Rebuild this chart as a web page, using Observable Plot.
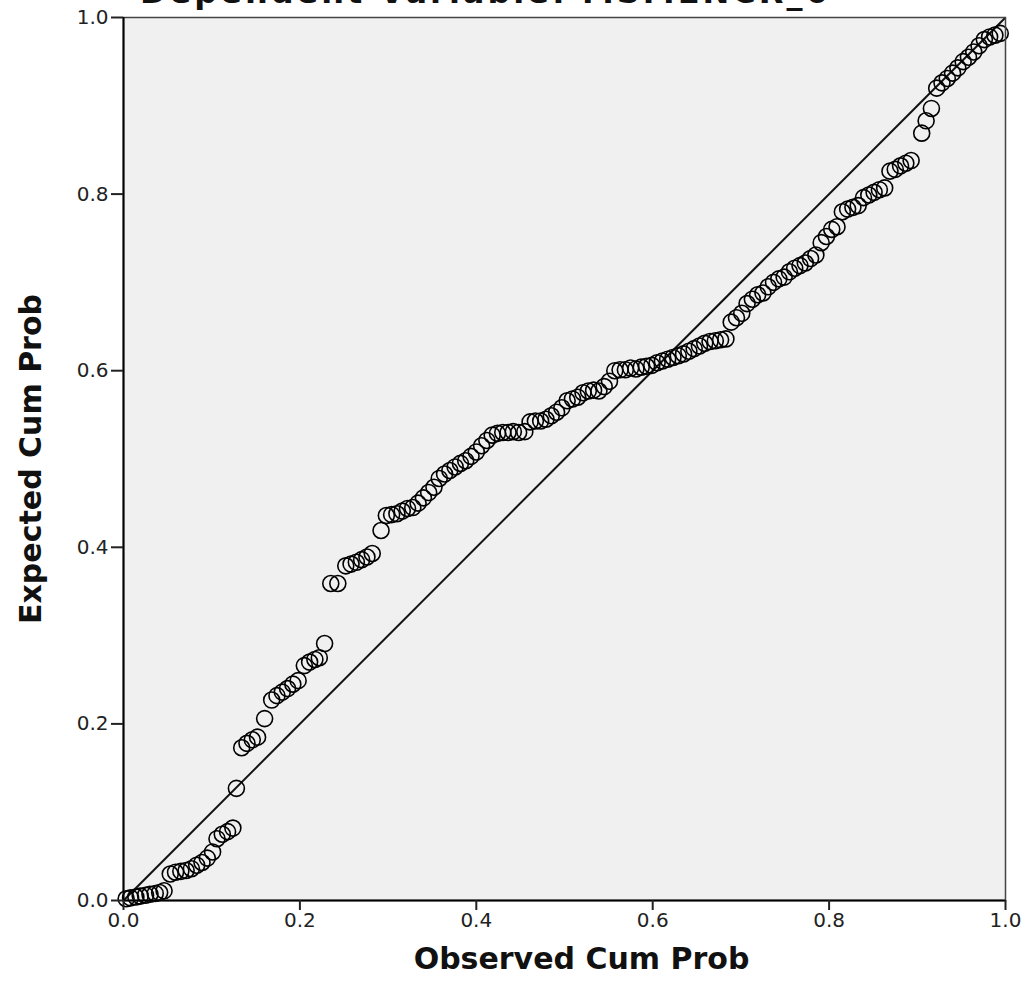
<!DOCTYPE html>
<html><head><meta charset="utf-8">
<script src="https://cdn.jsdelivr.net/npm/d3@7"></script>
<script src="https://cdn.jsdelivr.net/npm/@observablehq/plot@0.6"></script>
<style>
body{margin:0;background:#fff;}
#wrap{position:relative;width:1031px;height:999px;overflow:hidden;background:#fff;}
#title{position:absolute;left:140px;top:-27px;font:bold 32px "DejaVu Sans";letter-spacing:3px;color:#111;white-space:nowrap;z-index:2;}
#chart{position:absolute;left:0;top:0;}
</style></head><body>
<div id="wrap"><div id="title"></div><div id="chart"></div></div>
<script>
const titleText = "Dependent Variable: MSMENCR_6";
const xLabel = "Observed Cum Prob";
const yLabel = "Expected Cum Prob";
const ticks = [0, 0.2, 0.4, 0.6, 0.8, 1.0];
const diagonal = [0, 1];

const observed = [
0.003,0.008,0.014,0.019,0.025,0.030,0.036,0.041,0.046,
0.053,0.059,0.065,0.071,0.077,0.083,0.089,0.095,
0.101,0.106,0.112,0.118,0.124,0.128,
0.134,0.140,0.146,0.152,0.160,
0.168,0.174,0.180,0.186,0.192,0.198,
0.205,0.211,0.217,0.222,0.228,
0.235,0.243,
0.252,0.258,0.264,0.270,0.276,0.282,
0.292,0.298,0.304,0.310,0.316,0.322,0.328,
0.334,0.340,0.346,0.352,0.358,0.364,0.370,0.376,0.382,0.388,0.394,0.400,0.406,0.412,0.418,
0.424,0.430,0.436,0.442,0.448,0.455,
0.461,0.467,0.473,0.479,0.485,0.491,0.497,
0.503,0.509,0.515,0.521,0.527,0.533,0.539,0.545,0.551,
0.557,0.563,0.569,0.575,0.581,0.587,0.593,0.599,
0.605,0.611,0.617,0.623,0.629,0.635,0.641,0.647,0.653,0.659,0.665,0.671,0.677,0.683,
0.689,0.695,0.701,0.707,0.713,0.719,0.725,0.731,0.737,0.743,0.749,0.755,0.761,0.767,0.773,0.779,0.785,
0.791,0.797,0.803,0.809,0.815,0.821,0.827,0.833,0.839,0.845,0.851,0.857,0.863,
0.869,0.875,0.881,0.887,0.893,
0.905,0.910,0.916,
0.922,0.928,0.934,0.940,0.946,0.952,0.958,0.964,0.970,0.976,0.982,0.988,0.994
];
const expected = [
0.002,0.003,0.004,0.005,0.006,0.007,0.008,0.009,0.011,
0.030,0.032,0.033,0.034,0.036,0.040,0.043,0.048,
0.055,0.070,0.075,0.078,0.082,0.127,
0.173,0.178,0.182,0.185,0.206,
0.227,0.232,0.236,0.240,0.245,0.249,
0.266,0.270,0.273,0.275,0.291,
0.359,0.359,
0.379,0.381,0.383,0.386,0.389,0.393,
0.419,0.436,0.437,0.438,0.441,0.444,0.445,
0.450,0.456,0.462,0.468,0.478,0.483,0.487,0.491,0.495,0.498,0.503,0.508,0.515,0.521,0.527,
0.529,0.530,0.530,0.531,0.530,0.531,
0.542,0.543,0.543,0.545,0.549,0.553,0.558,
0.566,0.568,0.570,0.575,0.577,0.578,0.577,0.582,0.588,
0.600,0.601,0.601,0.603,0.602,0.604,0.605,0.606,
0.609,0.611,0.613,0.615,0.617,0.619,0.622,0.625,0.628,0.631,0.633,0.634,0.635,0.636,
0.655,0.660,0.665,0.676,0.681,0.686,0.688,0.695,0.700,0.704,0.706,0.712,0.716,0.719,0.722,0.727,0.731,
0.745,0.752,0.760,0.763,0.780,0.783,0.785,0.787,0.796,0.799,0.802,0.805,0.807,
0.826,0.828,0.832,0.835,0.838,
0.869,0.883,0.897,
0.920,0.926,0.931,0.937,0.943,0.950,0.955,0.961,0.968,0.975,0.978,0.980,0.982
];

document.getElementById("title").textContent = titleText;
const data = observed.map((x, i) => ({x, y: expected[i]}));
const fmt = d3.format(".1f");

const chart = Plot.plot({
  width: 1031,
  height: 999,
  marginLeft: 123,
  marginRight: 26,
  marginTop: 17,
  marginBottom: 99,
  style: {fontFamily: "DejaVu Sans", fontSize: "20px", background: "transparent", color: "#222"},
  x: {domain: [0, 1]},
  y: {domain: [0, 1]},
  marks: [
    Plot.frame({fill: "#f0f0f0", stroke: null}),
    Plot.link([diagonal], {x1: d => d[0], y1: d => d[0], x2: d => d[1], y2: d => d[1], stroke: "#111", strokeWidth: 2}),
    Plot.dot(data, {x: "x", y: "y", r: 8, stroke: "#000", strokeWidth: 1.6, fill: "none"}),
    Plot.frame({stroke: "#444", strokeWidth: 1.5}),
    Plot.ruleX([0], {stroke: "#000", strokeWidth: 2}),
    Plot.ruleY([0], {stroke: "#000", strokeWidth: 2}),
    Plot.axisX({ticks, tickFormat: fmt, tickSize: 10, tickPadding: 2, label: null, strokeWidth: 2}),
    Plot.axisY({ticks, tickFormat: fmt, tickSize: 12, tickPadding: 3, label: null, strokeWidth: 2}),
    Plot.text([xLabel], {text: d => d, frameAnchor: "bottom", dy: 68, dx: 17, fontSize: 30, fontWeight: "bold", fill: "#111"}),
    Plot.text([yLabel], {text: d => d, frameAnchor: "left", textAnchor: "middle", lineAnchor: "middle", dx: -92, rotate: -90, fontSize: 30, fontWeight: "bold", fill: "#111"})
  ]
});
document.getElementById("chart").appendChild(chart);
</script>
</body></html>
